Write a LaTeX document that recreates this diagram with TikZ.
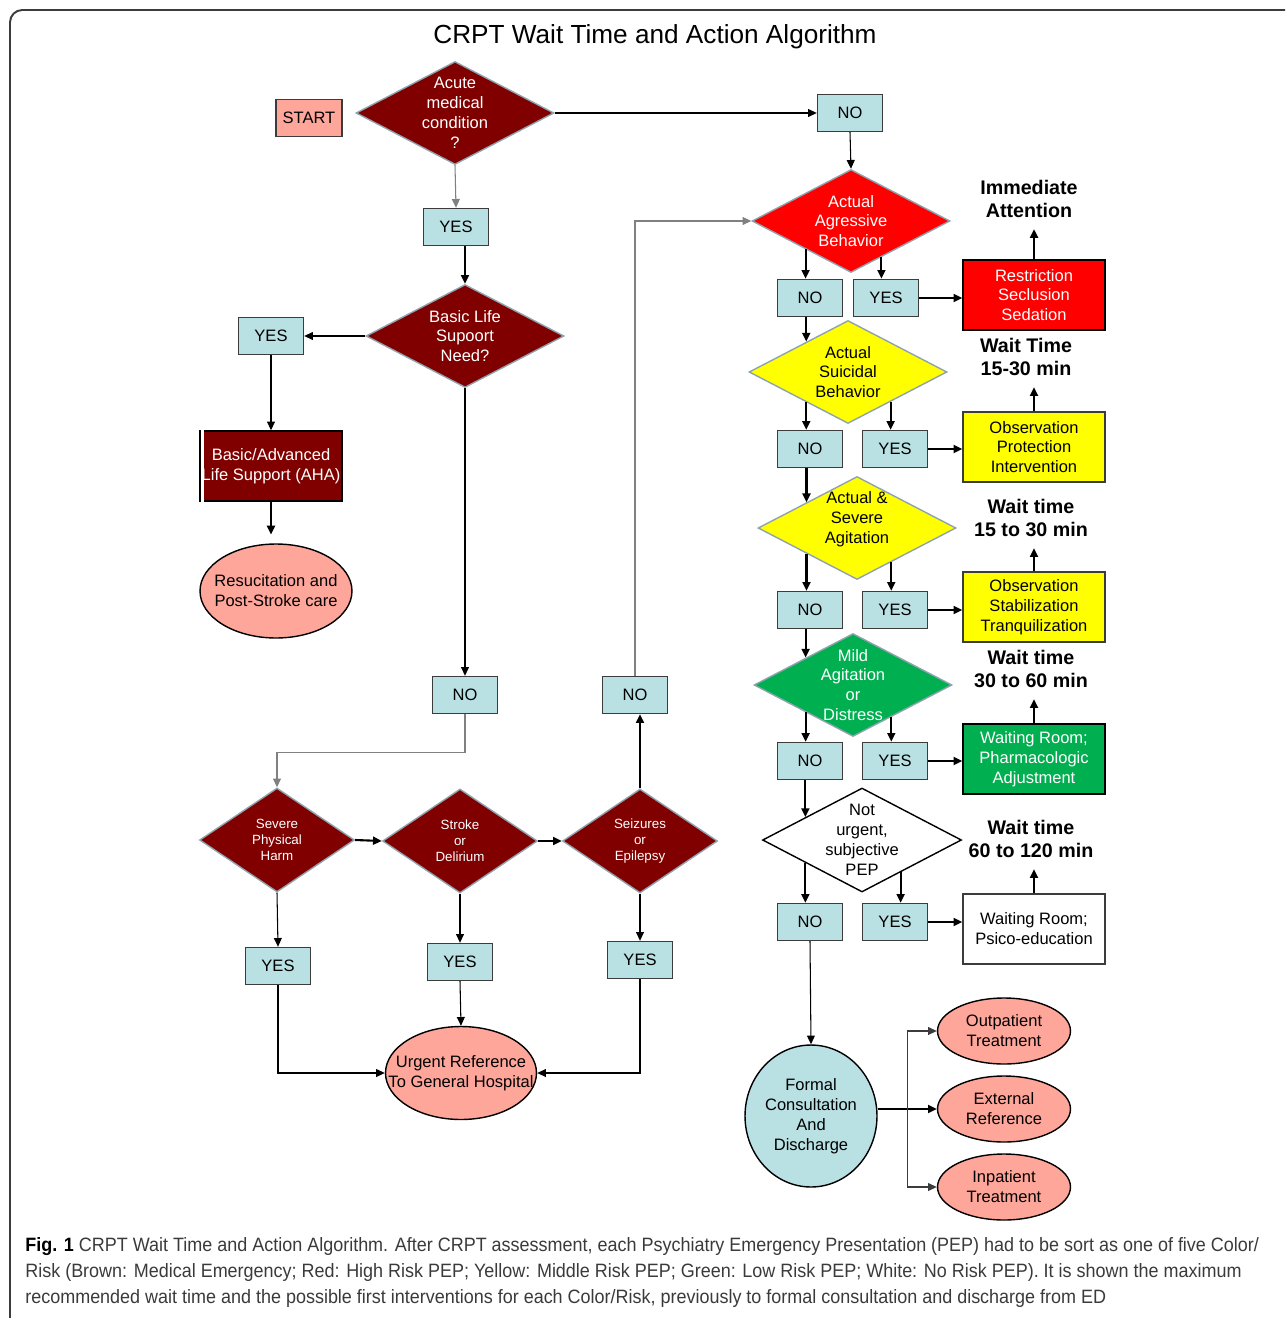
\documentclass[tikz,border=0pt]{standalone}
\usepackage{fontspec}
\setmainfont{Liberation Sans}
\newfontfamily\capfont[FakeStretch=0.93]{Liberation Sans}
\usetikzlibrary{shapes.geometric, arrows.meta, calc}

\definecolor{medbrown}{HTML}{800000}
\definecolor{riskred}{HTML}{FF0000}
\definecolor{riskyellow}{HTML}{FFFF00}
\definecolor{riskgreen}{HTML}{00B050}
\definecolor{ansblue}{HTML}{B9E0E3}
\definecolor{salmon}{HTML}{FFA69B}
\definecolor{diaedge}{HTML}{8FA3AF}
\definecolor{boxedge}{HTML}{3C3C3C}
\definecolor{capgray}{HTML}{3A3A3A}
\definecolor{linegray}{HTML}{808080}

\tikzset{
  every node/.style={font=\fontsize{9.4}{11.3}\selectfont},
  ans/.style={draw=boxedge, fill=ansblue, line width=0.8pt, minimum width=1.3cm, minimum height=0.74cm, inner sep=0pt},
  cond/.style={diamond, draw=diaedge, line width=0.8pt, inner sep=0pt, minimum width=3.96cm, minimum height=2.06cm},
  smallcond/.style={cond, fill=medbrown, minimum width=3.1cm, minimum height=2.08cm},
  qlab/.style={align=center, inner sep=0pt},
  smalllab/.style={qlab, text=white, font=\fontsize{7.6}{9}\selectfont},
  act/.style={minimum width=2.84cm, minimum height=1.4cm, align=center, line width=0.8pt, inner sep=0pt},
  outc/.style={ellipse, draw=black, fill=salmon, line width=0.8pt, inner sep=0pt, align=center},
  waitlbl/.style={font=\bfseries\fontsize{11.2}{13.6}\selectfont, align=center, inner xsep=0pt, inner ysep=6pt},
  arr/.style={-{Triangle[length=5pt,width=4.5pt]}, line width=0.6pt},
  arrthick/.style={-{Triangle[length=5pt,width=4.5pt]}, line width=1.2pt},
  arrgray/.style={arr, draw=linegray}
}

\begin{document}
\begin{tikzpicture}[x=0.02cm, y=-0.02cm]
\useasboundingbox (0,0) rectangle (1285,1318);
\clip (0,0) rectangle (1285,1318);
\draw[boxedge, line width=1.1pt, rounded corners=7pt] (10,10) rectangle (1310,1330);

\node[font=\fontsize{14.9}{18}\selectfont] (title) at (655,37) {CRPT Wait Time and Action Algorithm};

% medical branch
\node[draw=boxedge, fill=salmon, line width=0.8pt, minimum width=1.32cm, minimum height=0.74cm, inner sep=0pt] (start) at (309,118) {START};
\node[cond, fill=medbrown, label={[qlab, text=white]center:Acute\\medical\\condition\\?}] (acute) at (455,113) {};
\node[ans] (no0) at (850,113) {NO};
\node[ans] (yes0) at (456,227) {YES};
\node[cond, fill=medbrown, label={[qlab, text=white]center:Basic Life\\Supoort\\Need?}] (bls) at (465,336) {};
\node[ans] (yes1) at (271,336) {YES};
\node[act, fill=medbrown, draw=black, text=white] (bla) at (271,466) {Basic/Advanced\\Life Support (AHA)};
\draw[white, line width=1.6pt] ([xshift=2pt]bla.south west) -- ([xshift=2pt]bla.north west);
\node[outc, minimum width=3.04cm, minimum height=1.88cm, label={[qlab]center:Resucitation and\\Post-Stroke care}] (resus) at (276,591) {};
\node[ans] (no1) at (465,695) {NO};
\node[ans] (no2) at (635,695) {NO};

\node[smallcond, label={[smalllab]center:Severe\\Physical\\Harm}] (harm) at (277,840) {};
\node[smallcond, label={[smalllab]center:Stroke\\or\\Delirium}] (stroke) at (460,841) {};
\node[smallcond, label={[smalllab]center:Seizures\\or\\Epilepsy}] (seiz) at (640,841) {};
\node[ans] (yesH) at (278,966) {YES};
\node[ans] (yesS) at (460,962) {YES};
\node[ans] (yesZ) at (640,960) {YES};
\node[outc, minimum width=3.02cm, minimum height=1.86cm, label={[qlab]center:Urgent Reference\\To General Hospital}] (urgent) at (461,1073) {};

% psychiatric branch
\node[cond, fill=riskred, label={[qlab, text=white]center:Actual\\Agressive\\Behavior}] (agg) at (851,221) {};
\node[ans] (aggNo) at (810,298) {NO};
\node[ans] (aggYes) at (886,298) {YES};
\node[act, fill=riskred, draw=black, text=white] (restr) at (1034,295) {Restriction\\Seclusion\\Sedation};
\node[waitlbl] (imm) at (1029,199) {Immediate\\Attention};

\node[cond, fill=riskyellow, label={[qlab]center:Actual\\Suicidal\\Behavior}] (sui) at (848,372) {};
\node[ans] (suiNo) at (810,449) {NO};
\node[ans] (suiYes) at (895,449) {YES};
\node[act, fill=riskyellow, draw=boxedge] (obsA) at (1034,447) {Observation\\Protection\\Intervention};
\node[waitlbl] (waitA) at (1026,357) {Wait Time\\15-30 min};

\node[cond, fill=riskyellow, label={[qlab, yshift=5pt]center:Actual \&\\Severe\\Agitation}] (agit) at (857,528) {};
\node[ans] (agiNo) at (810,610) {NO};
\node[ans] (agiYes) at (895,610) {YES};
\node[act, fill=riskyellow, draw=boxedge] (obsB) at (1034,607) {Observation\\Stabilization\\Tranquilization};
\node[waitlbl] (waitB) at (1031,518) {Wait time\\15 to 30 min};

\node[cond, fill=riskgreen, label={[qlab, text=white]center:Mild\\Agitation\\or\\Distress}] (mild) at (853,685) {};
\node[ans] (mildNo) at (810,761) {NO};
\node[ans] (mildYes) at (895,761) {YES};
\node[act, fill=riskgreen, draw=black, text=white] (wroom) at (1034,759) {Waiting Room;\\Pharmacologic\\Adjustment};
\node[waitlbl] (waitC) at (1031,669) {Wait time\\30 to 60 min};

\node[cond, fill=white, draw=black, minimum width=3.98cm, minimum height=2.08cm, label={[qlab]center:Not\\urgent,\\subjective\\PEP}] (noturg) at (862,840) {};
\node[ans] (nuNo) at (810,922) {NO};
\node[ans] (nuYes) at (895,922) {YES};
\node[act, fill=white, draw=boxedge] (psico) at (1034,929) {Waiting Room;\\Psico-education};
\node[waitlbl] (waitD) at (1031,839) {Wait time\\60 to 120 min};

\node[ellipse, draw=black, fill=ansblue, line width=0.8pt, inner sep=0pt, align=center, minimum width=2.64cm, minimum height=2.84cm] (formal) at (811,1116) {Formal\\Consultation\\And\\Discharge};
\node[outc, minimum width=2.66cm, minimum height=1.32cm] (outp) at (1004,1031) {Outpatient\\Treatment};
\node[outc, minimum width=2.66cm, minimum height=1.32cm] (extref) at (1004,1109) {External\\Reference};
\node[outc, minimum width=2.66cm, minimum height=1.32cm] (inp) at (1004,1187) {Inpatient\\Treatment};

% connectors, medical branch
\draw[arr] (acute.east) -- (no0.west);
\draw[arr] (no0.south) -- (agg.north);
\draw[arrgray] (acute.south) -- (yes0.north);
\draw[arrthick] (yes0.south -| bls.north) -- (bls.north);
\draw[arr] (bls.west) -- (yes1.east);
\draw[arr] (yes1.south) -- (bla.north);
\draw[arrthick, shorten >=5pt] (bla.south) -- (bla.south |- resus.north);
\draw[arr] (bls.south) -- (no1.north);
\draw[arrgray] (no1.south) -- ++(0,38) -| (harm.north);
\draw[arrthick] (harm.east) -- (stroke.west);
\draw[arrthick] (stroke.east) -- (seiz.west);
\draw[arrthick] (seiz.north) -- (seiz.north |- no2.south);
\draw[arrgray] (no2.north) |- (agg.west);
\draw[arr] (harm.south) -- (yesH.north);
\draw[arr] (stroke.south) -- (yesS.north);
\draw[arr] (seiz.south) -- (yesZ.north);
\draw[arr] (yesH.south) |- (urgent.west);
\draw[arr] (yesS.south) -- (urgent.north);
\draw[arr] (yesZ.south) |- (urgent.east);

% connectors, psychiatric branch
\draw[arrthick] (agg.-148) -- (agg.-148 |- aggNo.north);
\draw[arrthick] (agg.-50) -- (agg.-50 |- aggYes.north);
\draw[arrthick] (aggYes.east) -- (aggYes.east -| restr.west);
\draw[arrthick] (restr.north) -- (restr.north |- imm.south);
\draw[arrthick] (aggNo.south -| sui.144) -- (sui.144);

\draw[arrthick] (sui.-144) -- (sui.-144 |- suiNo.north);
\draw[arrthick] (sui.-35) -- (sui.-35 |- suiYes.north);
\draw[arrthick] (suiYes.east) -- (suiYes.east -| obsA.west);
\draw[arrthick] (obsA.north) -- (obsA.north |- waitA.south);
\draw[arrthick] (suiNo.south -| agit.153) -- (agit.153);

\draw[arrthick] (agit.-153) -- (agit.-153 |- agiNo.north);
\draw[arrthick] (agit.-45) -- (agit.-45 |- agiYes.north);
\draw[arrthick] (agiYes.east) -- (agiYes.east -| obsB.west);
\draw[arrthick] (obsB.north) -- (obsB.north |- waitB.south);
\draw[arrthick] (agiNo.south -| mild.150) -- (mild.150);

\draw[arrthick] (mild.-150) -- (mild.-150 |- mildNo.north);
\draw[arrthick] (mild.-40) -- (mild.-40 |- mildYes.north);
\draw[arrthick] (mildYes.east) -- (mildYes.east -| wroom.west);
\draw[arrthick] (wroom.north) -- (wroom.north |- waitC.south);
\draw[arrthick] (mildNo.south -| noturg.158) -- (noturg.158);

\draw[arrthick] (noturg.-158) -- (noturg.-158 |- nuNo.north);
\draw[arrthick] (noturg.-40) -- (noturg.-40 |- nuYes.north);
\draw[arrthick] (nuYes.east) -- (nuYes.east -| psico.west);
\draw[arrthick] (psico.north) -- (psico.north |- waitD.south);

\draw[arr] (nuNo.south) -- (formal.north);
\coordinate (split) at ($(formal.east |- extref.west)!0.5!(extref.west)$);
\draw[arrthick] (formal.east |- extref.west) -- (extref.west);
\draw[arr, draw=boxedge] (split) |- (outp.west);
\draw[arr, draw=boxedge] (split) |- (inp.west);

\node[anchor=north west, align=left, inner sep=0pt, text=capgray, font=\capfont\fontsize{11}{14.7}\selectfont] (caption) at (25,1237)
  {{\bfseries\color{black}Fig. 1} CRPT Wait Time and Action Algorithm. After CRPT assessment, each Psychiatry Emergency Presentation (PEP) had to be sort as one of five Color/\\
   Risk (Brown: Medical Emergency; Red: High Risk PEP; Yellow: Middle Risk PEP; Green: Low Risk PEP; White: No Risk PEP). It is shown the maximum\\
   recommended wait time and the possible first interventions for each Color/Risk, previously to formal consultation and discharge from ED};
\end{tikzpicture}
\end{document}
